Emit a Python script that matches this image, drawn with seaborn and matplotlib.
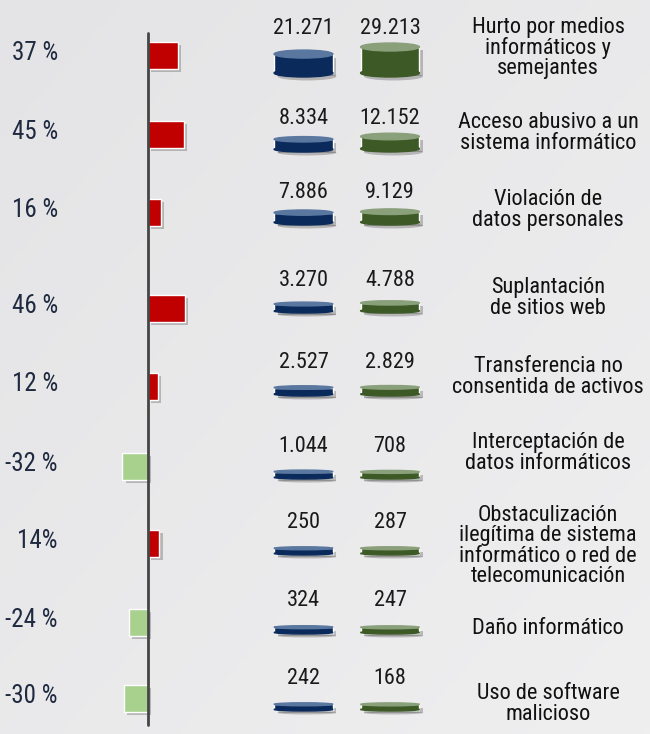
import matplotlib
matplotlib.use('Agg')
import matplotlib.pyplot as plt
import matplotlib.font_manager as fm
import matplotlib.patheffects as pe
import matplotlib.transforms as mtransforms
from matplotlib.patches import Ellipse
import numpy as np
import seaborn as sns

# data
categories = [
    'Hurto por medios\ninformáticos y\nsemejantes',
    'Acceso abusivo a un\nsistema informático',
    'Violación de\ndatos personales',
    'Suplantación\nde sitios web',
    'Transferencia no\nconsentida de activos',
    'Interceptación de\ndatos informáticos',
    'Obstaculización\nilegítima de sistema\ninformático o red de\ntelecomunicación',
    'Daño informático',
    'Uso de software\nmalicioso',
]
cases_2020 = [21271, 8334, 7886, 3270, 2527, 1044, 250, 324, 242]
cases_2021 = [29213, 12152, 9129, 4788, 2829, 708, 287, 247, 168]
pct_change = [37, 45, 16, 46, 12, -32, 14, -24, -30]
pct_labels = ['37 %', '45 %', '16 %', '46 %', '12 %', '-32 %', '14%', '-24 %', '-30 %']
years = ['2020', '2021']

# layout (figure pixels, top = 0)
W, H = 650, 734
bar_y = [55, 134, 212, 308, 386, 466, 543, 622, 698]
disk_base = [77, 152, 225, 313, 396, 479, 555, 634, 711]
cat_y = [48, 133, 210, 298, 377, 453, 546, 628, 704]

sns.set_theme(style='white')


def pick_font():
    order = ['extra-condensed', 'ultra-condensed', 'condensed', 'semi-condensed']
    pref = ['Liberation Sans Narrow', 'Roboto Condensed', 'Noto Sans', 'Open Sans', 'DejaVu Sans', 'Roboto']
    best = None
    for f in fm.fontManager.ttflist:
        if f.stretch not in order or f.style != 'normal':
            continue
        w = f.weight if isinstance(f.weight, int) else fm.weight_dict.get(f.weight, 400)
        if w != 400:
            continue
        rank = (order.index(f.stretch) // 2,
                pref.index(f.name) if f.name in pref else len(pref))
        if best is None or rank < best[0]:
            best = (rank, f.fname)
    return best[1] if best else None


font_file = pick_font()
plt.rcParams['font.family'] = ['DejaVu Sans']


def fp(size):
    if font_file:
        return fm.FontProperties(fname=font_file, size=size)
    return fm.FontProperties(family='DejaVu Sans', stretch='condensed', size=size)


fig = plt.figure(figsize=(W / 100, H / 100), dpi=100)

# background
bg = fig.add_axes([0, 0, 1, 1], zorder=0)
gx, gy = np.meshgrid(np.linspace(0, 1, 200), np.linspace(0, 1, 200))
grad = 0.5 * gx + 0.5 * (1 - gy)
bg_cmap = matplotlib.colors.LinearSegmentedColormap.from_list('bg', ['#e4e4e6', '#efeff0'])
bg.imshow(grad, cmap=bg_cmap, aspect='auto', extent=[0, 1, 0, 1], origin='lower')
bg.axis('off')

shadow = [pe.SimplePatchShadow(offset=(2.5, -2.5), alpha=0.28, shadow_rgbFace='#333333'), pe.Normal()]

# percentage change bars
ax_p = fig.add_axes([100 / W, 0, 100 / W, 1], zorder=2)
ax_p.patch.set_alpha(0)
signs = ['up' if v > 0 else 'down' for v in pct_change]
sns.barplot(x=pct_change, y=bar_y, hue=signs, palette={'up': '#c00000', 'down': '#a9d18e'},
            orient='h', native_scale=True, width=27 / 76, dodge=False, legend=False,
            errorbar=None, saturation=1, ax=ax_p)
for patch in ax_p.patches:
    patch.set_path_effects(shadow)
ax_p.set_xlim(-60, 65)
ax_p.set_ylim(H, 0)
ax_p.axvline(0, ymin=(H - 725) / H, ymax=(H - 33) / H, color='#454545', lw=2)
ax_p.axis('off')

trans_p = mtransforms.blended_transform_factory(fig.transFigure, ax_p.transData)
for y, lab in zip(bar_y, pct_labels):
    ax_p.text(58 / W, y - 2, lab, transform=trans_p, ha='right', va='center',
              color='#1f2a40', fontproperties=fp(18))

# cylinders
ax_d = fig.add_axes([260 / W, 0, 180 / W, 1], zorder=2)
ax_d.patch.set_alpha(0)
ax_d.set_xlim(-0.503, 1.578)
ax_d.set_ylim(H, 0)
ax_d.axis('off')

cw = 0.68
h_min = 8.0
h_scale = 26.0 / max(cases_2021)
styles = [('#0b2a5c', '#5a77a0'), ('#3d5a26', '#8aa07b')]

for i in range(len(categories)):
    vals = [cases_2020[i], cases_2021[i]]
    hs = [h_min + v * h_scale for v in vals]
    base = disk_base[i]
    for col, (v, h) in enumerate(zip(vals, hs)):
        body, top_c = styles[col]
        eh = min(8.0, max(3.0, 0.35 * h))
        bars = ax_d.bar(col, -(h - eh), bottom=base - eh / 2, width=cw, color=body, zorder=3)
        for b in bars:
            b.set_path_effects(shadow)
        bottom_e = Ellipse((col, base - eh / 2), cw, eh, color=body, zorder=4)
        bottom_e.set_path_effects(shadow)
        ax_d.add_patch(bottom_e)
        ax_d.add_patch(Ellipse((col, base - h + eh / 2), cw, eh, color=top_c, zorder=5))
        ax_d.text(col, base - max(33, max(hs) + 15), f'{v:,}'.replace(',', '.'),
                  ha='center', va='center', color='#1a1a1a', fontproperties=fp(16))

ax_d.text(0, -6, years[0], ha='center', va='center', color='#1a1a1a', fontproperties=fp(16))

# category labels
for y, lab in zip(cat_y, categories):
    fig.text(548 / W, 1 - y / H, lab, ha='center', va='center', color='#111111',
             linespacing=0.95, fontproperties=fp(16))

fig.savefig('out.png', dpi=100)
